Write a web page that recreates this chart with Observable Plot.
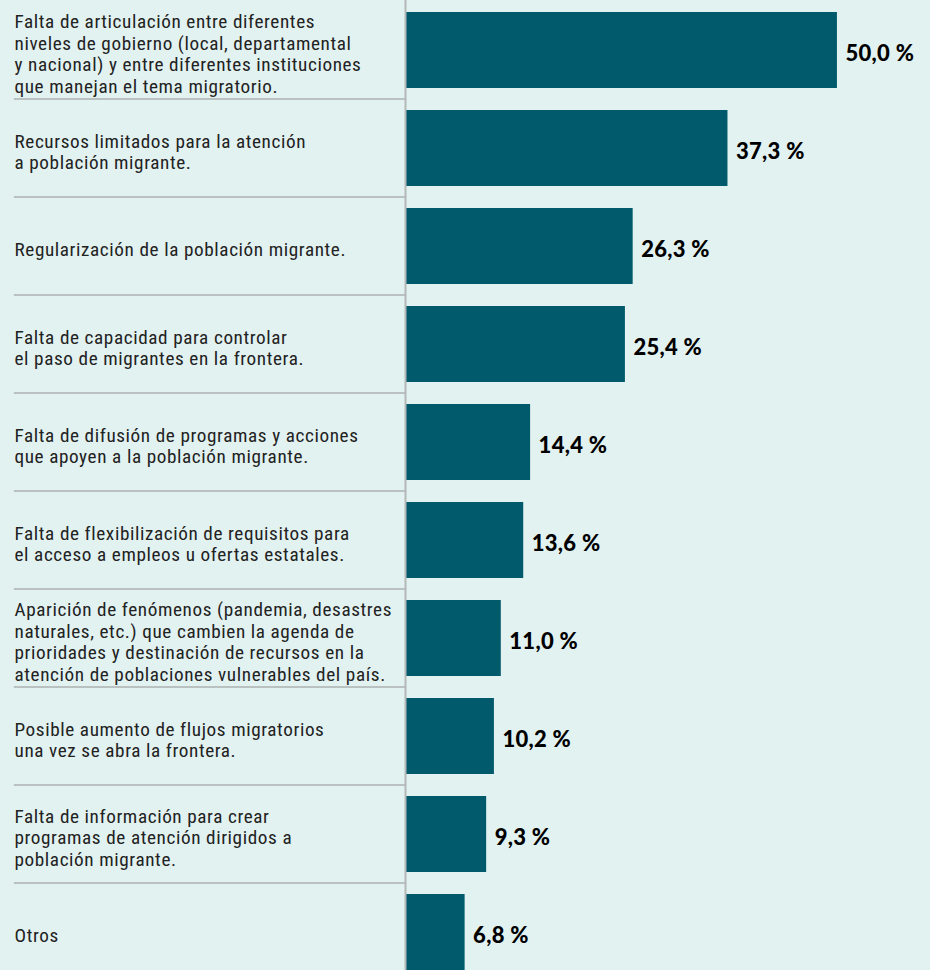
<!DOCTYPE html>
<html>
<head>
<meta charset="utf-8">
<script src="https://cdn.jsdelivr.net/npm/d3@7"></script>
<script src="https://cdn.jsdelivr.net/npm/@observablehq/plot@0.6"></script>
<style>
  html, body { margin: 0; padding: 0; background: #e2f2f1; }
  #chart svg { display: block; }
</style>
</head>
<body>
<div id="chart"></div>
<script>
const categories = [
  "Falta de articulación entre diferentes\nniveles de gobierno (local, departamental\ny nacional) y entre diferentes instituciones\nque manejan el tema migratorio.",
  "Recursos limitados para la atención\na población migrante.",
  "Regularización de la población migrante.",
  "Falta de capacidad para controlar\nel paso de migrantes en la frontera.",
  "Falta de difusión de programas y acciones\nque apoyen a la población migrante.",
  "Falta de flexibilización de requisitos para\nel acceso a empleos u ofertas estatales.",
  "Aparición de fenómenos (pandemia, desastres\nnaturales, etc.) que cambien la agenda de\nprioridades y destinación de recursos en la\natención de poblaciones vulnerables del país.",
  "Posible aumento de flujos migratorios\nuna vez se abra la frontera.",
  "Falta de información para crear\nprogramas de atención dirigidos a\npoblación migrante.",
  "Otros"
];
const values = [50.0, 37.3, 26.3, 25.4, 14.4, 13.6, 11.0, 10.2, 9.3, 6.8];

const rows = categories.map((c, i) => ({cat: c, value: values[i]}));
const fmt = v => v.toFixed(1).replace(".", ",") + " %";

const chart = Plot.plot({
  width: 930,
  height: 970,
  marginLeft: 406,
  marginRight: 0,
  marginTop: 0,
  marginBottom: 0,
  style: {background: "#e2f2f1", overflow: "visible"},
  x: {domain: [0, 60.8], axis: null},
  y: {domain: categories, paddingInner: 0.2245, paddingOuter: 0.056, align: 1, axis: null},
  marks: [
    Plot.ruleY(categories.slice(1), {y: d => d, dy: -49.5, x1: -45.5, x2: 0, stroke: "#acb1b1", strokeWidth: 1.5}),
    Plot.barX(rows, {y: "cat", x: "value", fill: "#01596c"}),
    Plot.ruleX([0], {stroke: "#b3b7b7", strokeWidth: 2, dx: -1}),
    Plot.text(rows, {
      y: "cat", text: "cat", frameAnchor: "left", dx: -392, dy: 3, textAnchor: "start",
      fontFamily: "'Liberation Sans Narrow', 'Roboto Condensed', Roboto, sans-serif",
      fontSize: 19.2, lineHeight: 1.12, fill: "#222"
    }),
    Plot.text(rows, {
      y: "cat", x: "value", text: d => fmt(d.value), textAnchor: "start", dx: 8, dy: 3,
      fontFamily: "Lato, sans-serif", fontWeight: 900, fontSize: 22, fill: "#000"
    })
  ]
});
const textGroups = chart.querySelectorAll('g[aria-label="text"]');
textGroups[0].style.letterSpacing = "0.6px";
textGroups[1].style.letterSpacing = "0.3px";
document.getElementById("chart").appendChild(chart);
</script>
</body>
</html>
